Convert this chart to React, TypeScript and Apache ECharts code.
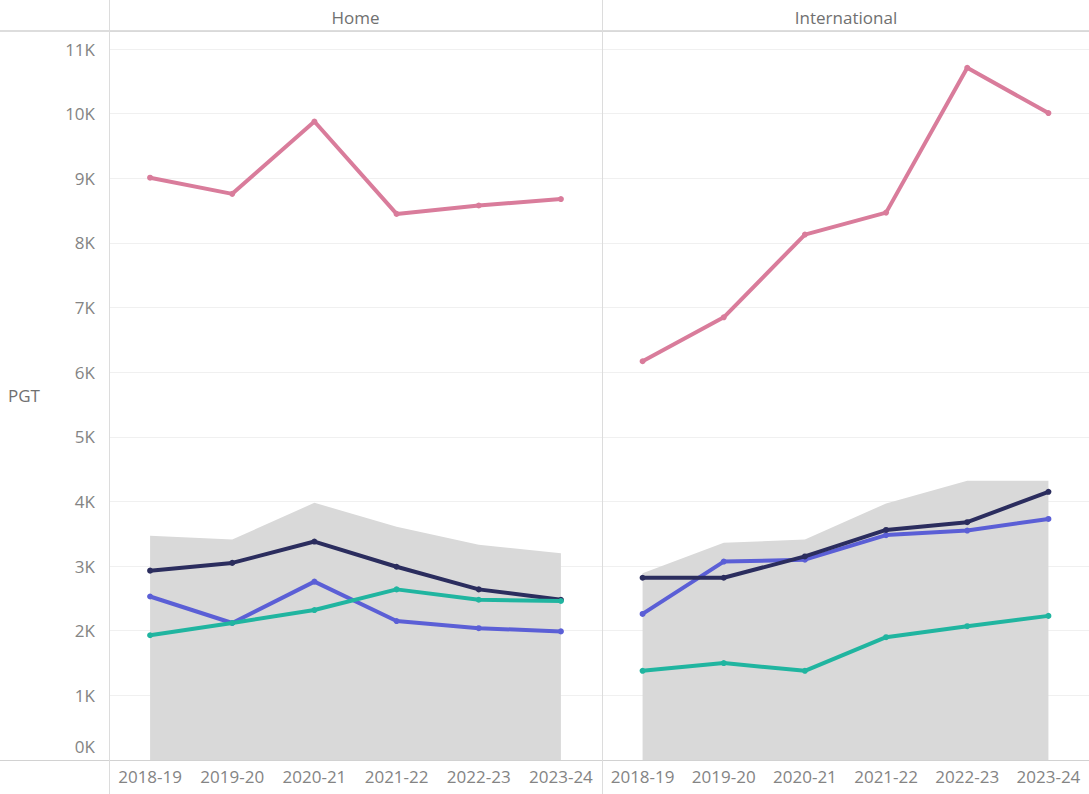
import React, { useEffect, useRef } from "react";
import * as echarts from "echarts";

const categories = ["2018-19", "2019-20", "2020-21", "2021-22", "2022-23", "2023-24"];
const panels = ["Home", "International"];
const yTickValues = [0, 1000, 2000, 3000, 4000, 5000, 6000, 7000, 8000, 9000, 10000, 11000];

const homeTotal = [3470, 3410, 3980, 3610, 3330, 3200];
const homePink = [9010, 8760, 9880, 8450, 8580, 8680];
const homeNavy = [2930, 3050, 3380, 2990, 2640, 2480];
const homeBlue = [2530, 2120, 2760, 2150, 2040, 1990];
const homeTeal = [1930, 2120, 2320, 2640, 2480, 2460];

const intlTotal = [2890, 3360, 3410, 3970, 4320, 4320];
const intlPink = [6170, 6850, 8130, 8470, 10710, 10010];
const intlNavy = [2820, 2820, 3150, 3560, 3680, 4150];
const intlBlue = [2260, 3070, 3100, 3480, 3550, 3730];
const intlTeal = [1380, 1500, 1380, 1900, 2070, 2230];

const W = 1089;
const H = 794;
const FONT = "Open Sans";
const TEXT = "#848484";
const FS = 17;

const COLORS = {
  total: "#d9d9d9",
  pink: "#d97c9b",
  navy: "#2b2d5e",
  blue: "#5b5fd6",
  teal: "#20b5a0",
};

function lineSeries(name: string, data: number[], color: string, idx: number, z: number) {
  return {
    type: "line",
    name,
    data,
    xAxisIndex: idx,
    yAxisIndex: idx,
    symbol: "circle",
    symbolSize: 6,
    z,
    lineStyle: { color, width: 4 },
    itemStyle: { color },
  };
}

function areaSeries(data: number[], idx: number) {
  return {
    type: "line",
    name: "Total",
    data,
    xAxisIndex: idx,
    yAxisIndex: idx,
    symbol: "none",
    z: 1,
    lineStyle: { width: 0, color: COLORS.total },
    areaStyle: { color: COLORS.total, opacity: 1 },
  };
}

export default function App() {
  const ref = useRef<HTMLDivElement>(null);
  useEffect(() => {
    if (!ref.current) return;
    const chart = echarts.init(ref.current, null, { renderer: "svg", width: W, height: H });
    const yMax = 11280;
    const makeY = (idx: number) => ({
      type: "value",
      gridIndex: idx,
      min: 0,
      max: yMax,
      interval: 1000,
      axisLine: { show: false },
      axisTick: { show: false },
      splitLine: { show: true, lineStyle: { color: "#f0f0f0", width: 1 } },
      axisLabel: {
        show: idx === 0,
        color: TEXT,
        fontFamily: FONT,
        fontSize: FS,
        margin: 14,
        showMaxLabel: false,
        formatter: (v: number) =>
          v === 0 ? "{z|0K}" : yTickValues.includes(v) ? v / 1000 + "K" : "",
        rich: {
          z: { color: TEXT, fontFamily: FONT, fontSize: FS, padding: [0, 0, 28, 0] },
        },
      },
    });
    const makeX = (idx: number) => ({
      type: "category",
      gridIndex: idx,
      data: categories,
      boundaryGap: true,
      axisLine: { show: false },
      axisTick: { show: false },
      axisLabel: {
        color: TEXT,
        fontFamily: FONT,
        fontSize: FS,
        margin: 8,
        interval: 0,
      },
    });
    const headerStyle = (t: string) => ({
      text: t,
      fill: "#707070",
      font: `${FS}px '${FONT}'`,
      align: "center",
      verticalAlign: "middle",
    });
    chart.setOption({
      animation: false,
      backgroundColor: "#ffffff",
      grid: [
        { left: 109, right: W - 602, top: 31, bottom: H - 760 },
        { left: 602, right: 0, top: 31, bottom: H - 760 },
      ],
      xAxis: [makeX(0), makeX(1)],
      yAxis: [makeY(0), makeY(1)],
      series: [
        areaSeries(homeTotal, 0),
        lineSeries("Blue", homeBlue, COLORS.blue, 0, 3),
        lineSeries("Navy", homeNavy, COLORS.navy, 0, 4),
        lineSeries("Teal", homeTeal, COLORS.teal, 0, 5),
        lineSeries("Pink", homePink, COLORS.pink, 0, 6),
        areaSeries(intlTotal, 1),
        lineSeries("Blue", intlBlue, COLORS.blue, 1, 3),
        lineSeries("Navy", intlNavy, COLORS.navy, 1, 4),
        lineSeries("Teal", intlTeal, COLORS.teal, 1, 5),
        lineSeries("Pink", intlPink, COLORS.pink, 1, 6),
      ],
      graphic: [
        { type: "line", z: 10, shape: { x1: 0, y1: 31, x2: W, y2: 31 }, style: { stroke: "#d2d2d2", lineWidth: 1.5 } },
        { type: "line", z: 10, shape: { x1: 0, y1: 760.5, x2: W, y2: 760.5 }, style: { stroke: "#d2d2d2", lineWidth: 1 } },
        { type: "line", z: 10, shape: { x1: 109.5, y1: 0, x2: 109.5, y2: H }, style: { stroke: "#dcdcdc", lineWidth: 1 } },
        { type: "line", z: 10, shape: { x1: 602.5, y1: 0, x2: 602.5, y2: H }, style: { stroke: "#dcdcdc", lineWidth: 1 } },
        { type: "text", x: 355.5, y: 17, style: headerStyle(panels[0]) },
        { type: "text", x: 846, y: 17, style: headerStyle(panels[1]) },
        { type: "text", x: 24, y: 395, style: headerStyle("PGT") },
      ],
    });
    return () => chart.dispose();
  }, []);
  return (
    <div
      ref={ref}
      style={{ position: "fixed", left: 0, top: 0, width: W, height: H, background: "#fff" }}
    />
  );
}
